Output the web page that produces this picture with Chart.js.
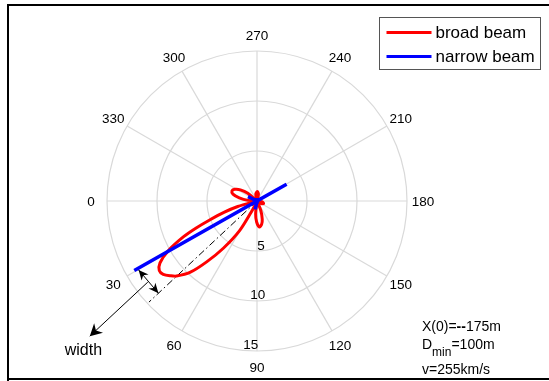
<!DOCTYPE html>
<html>
<head>
<meta charset="utf-8">
<script src="https://cdn.jsdelivr.net/npm/chart.js@4"></script>
<style>
  html, body { margin: 0; padding: 0; background: #ffffff; }
  #wrap { width: 549px; height: 381px; position: relative; }
</style>
</head>
<body>
<div id="wrap"><canvas id="c" width="549" height="381"></canvas></div>
<script>
// Polar grid: angle spokes (degrees) and radial rings
const thetaTicks = [0, 30, 60, 90, 120, 150, 180, 210, 240, 270, 300, 330];
const radialTicks = [5, 10, 15];
const rMax = 15;

// Broad beam pattern: angle (deg) and radius
const broadAngle  = [10, 16, 19, 22, 24, 26, 29.3, 32.5, 35.5, 38, 41, 43, 46.8, 50.4, 54.5, 59.6, 63, 66,
                     78, 84, 89, 95, 101, 106, 112, 118,
                     135, 150, 160, 172, 185,
                     245, 258, 268, 280, 292,
                     312, 320, 326, 332, 338, 344, 350, 356, 360];
const broadRadius = [0, 2.0, 3.5, 5.2, 6.7, 8.2, 10.2, 11.5, 12.0, 11.9, 11.4, 11.0, 9.8, 7.9, 5.8, 3.4, 1.0, 0,
                     0, 1.3, 2.1, 2.6, 2.4, 1.9, 1.0, 0,
                     0, 0.5, 0.7, 0.5, 0,
                     0, 0.7, 0.95, 0.7, 0,
                     0, 1.2, 2.0, 2.5, 2.7, 2.5, 1.8, 0.9, 0];

// Narrow beam pattern: angle (deg) and radius
const narrowAngle  = [0, 29.5, 60, 70, 78, 86, 200, 209.5, 219, 250, 262, 274, 320, 334, 348, 360];
const narrowRadius = [0, 14.1, 0, 0, 0.85, 0, 0, 3.4, 0, 0, 0.3, 0, 0, 1.0, 0, 0];

// Reference direction (dash-dot) and the width markers
const refAngle  = [43.1, 43.1];
const refRadius = [0, 14.8];
const widthEnds    = [[30.2, 13.7], [43.1, 13.5]];
const pointerEnds  = [[36.6, 13.6], [38.95, 21.5]];
const widthLabelAt = [40.7, 22.9];

const seriesNames  = ['broad beam', 'narrow beam'];

const FONT = '"Liberation Sans", Arial, Helvetica, sans-serif';

function toXY(theta, r) {
  const a = theta * Math.PI / 180;
  return { x: -r * Math.cos(a), y: -r * Math.sin(a) };
}
function curve(angles, radii) {
  return angles.map((t, i) => toXY(t, radii[i]));
}

function px(chart, theta, r) {
  const p = toXY(theta, r);
  return { x: chart.scales.x.getPixelForValue(p.x), y: chart.scales.y.getPixelForValue(p.y) };
}

function arrowHead(ctx, tip, from, len, half) {
  const ang = Math.atan2(tip.y - from.y, tip.x - from.x);
  const c = Math.cos(ang), s = Math.sin(ang);
  const bx = tip.x - c * len, by = tip.y - s * len;
  const nx = tip.x - c * len * 0.7, ny = tip.y - s * len * 0.7;
  ctx.beginPath();
  ctx.moveTo(tip.x, tip.y);
  ctx.lineTo(bx - s * half, by + c * half);
  ctx.lineTo(nx, ny);
  ctx.lineTo(bx + s * half, by - c * half);
  ctx.closePath();
  ctx.fill();
}

// Draw a run of text pieces left to right, each with its own font and baseline shift
function textRun(ctx, x, y, pieces) {
  pieces.forEach(p => {
    ctx.font = p.font;
    ctx.fillText(p.text, x, y + (p.dy || 0));
    x += ctx.measureText(p.text).width;
  });
}

const polarGrid = {
  id: 'polarGrid',
  beforeDatasetsDraw(chart) {
    const ctx = chart.ctx;
    const xs = chart.scales.x, ys = chart.scales.y;
    const cx = xs.getPixelForValue(0), cy = ys.getPixelForValue(0);
    const unit = xs.getPixelForValue(1) - cx;
    ctx.save();
    ctx.strokeStyle = '#d9d9d9';
    ctx.lineWidth = 1.2;
    for (let k = 0; k < 6; k++) {
      const a = px(chart, thetaTicks[k], rMax), b = px(chart, thetaTicks[k] + 180, rMax);
      ctx.beginPath(); ctx.moveTo(a.x, a.y); ctx.lineTo(b.x, b.y); ctx.stroke();
    }
    radialTicks.forEach(r => {
      ctx.beginPath(); ctx.arc(cx, cy, r * unit, 0, Math.PI * 2); ctx.stroke();
    });
    ctx.restore();
  },
  afterDatasetsDraw(chart) {
    const ctx = chart.ctx;
    ctx.save();
    // angle labels
    ctx.fillStyle = '#000';
    ctx.font = '13.5px ' + FONT;
    ctx.textAlign = 'center';
    ctx.textBaseline = 'middle';
    thetaTicks.forEach(t => {
      const p = px(chart, t, rMax * 1.107);
      ctx.fillText(String(t), p.x, p.y + 1);
    });
    // radial labels
    ctx.textAlign = 'left';
    ctx.textBaseline = 'bottom';
    radialTicks.forEach(r => {
      const p = px(chart, 82, r + 0.25);
      ctx.fillText('  ' + r, p.x, p.y);
    });

    // width markers
    ctx.strokeStyle = '#000';
    ctx.fillStyle = '#000';
    ctx.lineWidth = 1;
    const w0 = px(chart, widthEnds[0][0], widthEnds[0][1]);
    const w1 = px(chart, widthEnds[1][0], widthEnds[1][1]);
    ctx.beginPath(); ctx.moveTo(w0.x, w0.y); ctx.lineTo(w1.x, w1.y); ctx.stroke();
    arrowHead(ctx, w0, w1, 10, 4.5);
    arrowHead(ctx, w1, w0, 10, 4.5);
    const p0 = px(chart, pointerEnds[0][0], pointerEnds[0][1]);
    const p1 = px(chart, pointerEnds[1][0], pointerEnds[1][1]);
    ctx.beginPath(); ctx.moveTo(p0.x, p0.y); ctx.lineTo(p1.x, p1.y); ctx.stroke();
    arrowHead(ctx, p1, p0, 12, 6.5);
    const lp = px(chart, widthLabelAt[0], widthLabelAt[1]);
    ctx.font = '16px ' + FONT;
    ctx.textAlign = 'center';
    ctx.textBaseline = 'alphabetic';
    ctx.fillText('width', lp.x, lp.y + 5);

    // run parameters
    ctx.textAlign = 'left';
    const f14 = '14px ' + FONT;
    textRun(ctx, 422, 330.5, [
      { text: 'X(0)=', font: f14 },
      { text: '--', font: 'bold 14px ' + FONT },
      { text: '175m', font: f14 }
    ]);
    textRun(ctx, 422, 349, [
      { text: 'D', font: f14 },
      { text: 'min', font: '12px ' + FONT, dy: 6.5 },
      { text: '=100m', font: f14 }
    ]);
    textRun(ctx, 422, 374, [{ text: 'v=255km/s', font: f14 }]);

    // legend
    ctx.fillStyle = '#fff';
    ctx.fillRect(379.5, 17.5, 161, 52);
    ctx.strokeStyle = '#555';
    ctx.lineWidth = 1;
    ctx.strokeRect(379.5, 17.5, 161, 52);
    ctx.font = '17px ' + FONT;
    ctx.textBaseline = 'middle';
    [0, 1].forEach(i => {
      const ds = chart.data.datasets[i];
      const y = 32.5 + i * 24;
      ctx.strokeStyle = ds.borderColor;
      ctx.lineWidth = 3;
      ctx.beginPath(); ctx.moveTo(386.5, y); ctx.lineTo(431.5, y); ctx.stroke();
      ctx.fillStyle = '#000';
      ctx.fillText(ds.label, 435.5, y + 1);
    });

    // frame
    ctx.fillStyle = '#000';
    ctx.fillRect(7, 4, 542, 2);
    ctx.fillRect(7, 4, 2, 377);
    ctx.fillRect(7, 378, 542, 2);
    ctx.restore();
  }
};

new Chart(document.getElementById('c'), {
  type: 'scatter',
  data: {
    datasets: [
      { label: seriesNames[0], data: curve(broadAngle, broadRadius), showLine: true,
        borderColor: '#ff0000', borderWidth: 3, pointRadius: 0, tension: 0.3, order: 2 },
      { label: seriesNames[1], data: curve(narrowAngle, narrowRadius), showLine: true,
        borderColor: '#0000ff', borderWidth: 3.5, pointRadius: 0, tension: 0, order: 1 },
      { label: 'reference', data: curve(refAngle, refRadius), showLine: true,
        borderColor: '#000000', borderWidth: 1, borderDash: [7, 3, 1.5, 3], pointRadius: 0, order: 3 }
    ]
  },
  options: {
    responsive: false,
    animation: false,
    devicePixelRatio: 1,
    layout: { padding: 0 },
    plugins: { legend: { display: false }, tooltip: { enabled: false } },
    scales: {
      x: { type: 'linear', display: false, min: -25.7, max: 29.2 },
      y: { type: 'linear', display: false, min: -18.0, max: 20.1 }
    }
  },
  plugins: [polarGrid]
});
</script>
</body>
</html>
